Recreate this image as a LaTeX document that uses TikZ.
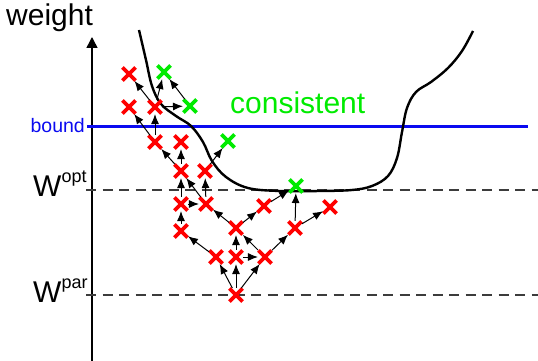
\documentclass[tikz,border=0pt]{standalone}
\usepackage{fontspec}
\setmainfont{Liberation Sans}
\usetikzlibrary{arrows.meta,shapes.misc}
\definecolor{clrR}{RGB}{255,0,0}
\definecolor{clrG}{RGB}{0,235,0}
\definecolor{clrB}{RGB}{10,10,240}
\definecolor{clrD}{RGB}{60,60,60}

\begin{document}
\begin{tikzpicture}[x=1pt,y=-1pt,
   xbad/.style={cross out,draw=clrR,line width=3.6pt,minimum size=9.5pt,inner sep=0pt},
   xgood/.style={xbad,draw=clrG},
   ar/.style={-{Latex[length=10pt,width=8pt]},line width=1pt,shorten >=0.5pt,shorten <=0.5pt},
   lvl/.style={draw=clrD,line width=1.3pt,dash pattern=on 10pt off 6.5pt},
   big/.style={font=\fontsize{30}{30}\selectfont,inner sep=0pt}]
  \useasboundingbox (0,0) rectangle (538,361);

  % axis and levels
  \coordinate (ybot) at (92,361);
  \coordinate (ytop) at (92,37);
  \draw[line width=1.5pt,-{Triangle[length=11pt,width=11pt]}] (ybot) -- (ytop);
  \node[big,anchor=base west] (ylab) at (6,26) {weight};

  \coordinate (bl) at (87,126); \coordinate (br) at (528,126);
  \draw[clrB,line width=3pt] (bl) -- (br);
  \node[anchor=east,text=clrB,font=\fontsize{19.5}{19.5}\selectfont,inner sep=2pt] (blab) at (bl) {bound};

  \coordinate (ol) at (86,190); \coordinate (or) at (538,190);
  \coordinate (pl) at (86,295); \coordinate (pr) at (538,295);
  \draw[lvl] (ol) -- (or);
  \draw[lvl] (pl) -- (pr);
  \node[big,anchor=base west] (wopt) at (33,196)
    {W\raisebox{14pt}{\fontsize{18}{18}\selectfont opt}};
  \node[big,anchor=base west] (wpar) at (33,302)
    {W\raisebox{14pt}{\fontsize{18}{18}\selectfont par}};

  \node[big,anchor=base west,text=clrG] (cons) at (230,113) {consistent};

  % boundary of the feasible region
  \draw[line width=2.4pt,line join=round] plot[smooth,tension=0.6] coordinates {
    (139,30) (146,60) (152,86) (161,104) (176,116) (191,126) (203,142)
    (212,161) (226,177) (248,188) (280,191) (320,191) (352,190) (372,186)
    (388,176) (397,158) (402,132) (407,108) (416,92) (431,82) (448,68)
    (462,51) (473,31)};

  % search states
  \node[xbad] (r1) at (129,74) {};
  \node[xbad] (r2) at (129,107) {};
  \node[xbad] (r3) at (155,107) {};
  \node[xbad] (r4) at (155,142) {};
  \node[xbad] (r5) at (181,142) {};
  \node[xbad] (r6) at (181,171) {};
  \node[xbad] (r7) at (205,171) {};
  \node[xbad] (r8) at (181,204) {};
  \node[xbad] (r9) at (206,204) {};
  \node[xbad] (r10) at (181,231) {};
  \node[xbad] (r11) at (216,257) {};
  \node[xbad] (r12) at (236,257) {};
  \node[xbad] (r13) at (236,228) {};
  \node[xbad] (r14) at (264,206) {};
  \node[xbad] (r15) at (265,257) {};
  \node[xbad] (r16) at (295,228) {};
  \node[xbad] (r17) at (330,207) {};
  \node[xbad] (r18) at (236,295) {};
  \node[xgood] (g1) at (164,72) {};
  \node[xgood] (g2) at (190,106) {};
  \node[xgood] (g3) at (228,141) {};
  \node[xgood] (g4) at (296,186) {};

  \draw[ar] (r18) -- (r11); \draw[ar] (r18) -- (r12); \draw[ar] (r18) -- (r15);
  \draw[ar] (r12) -- (r15); \draw[ar] (r12) -- (r13); \draw[ar] (r15) -- (r13);
  \draw[ar] (r15) -- (r16); \draw[ar] (r13) -- (r9);  \draw[ar] (r13) -- (r14);
  \draw[ar] (r14) -- (g4);  \draw[ar] (r16) -- (g4);  \draw[ar] (r16) -- (r17);
  \draw[ar] (r11) -- (r10); \draw[ar] (r10) -- (r8);  \draw[ar] (r8) -- (r9);
  \draw[ar] (r8) -- (r6);   \draw[ar] (r9) -- (r6);   \draw[ar] (r9) -- (r7);
  \draw[ar] (r7) -- (g3);   \draw[ar] (r6) -- (r5);   \draw[ar] (r6) -- (r4);
  \draw[ar] (r4) -- (r3);   \draw[ar] (r4) -- (r2);   \draw[ar] (r3) -- (r1);
  \draw[ar] (r3) -- (g1);   \draw[ar] (r3) -- (g2);   \draw[ar] (g2) -- (g1);
\end{tikzpicture}
\end{document}
